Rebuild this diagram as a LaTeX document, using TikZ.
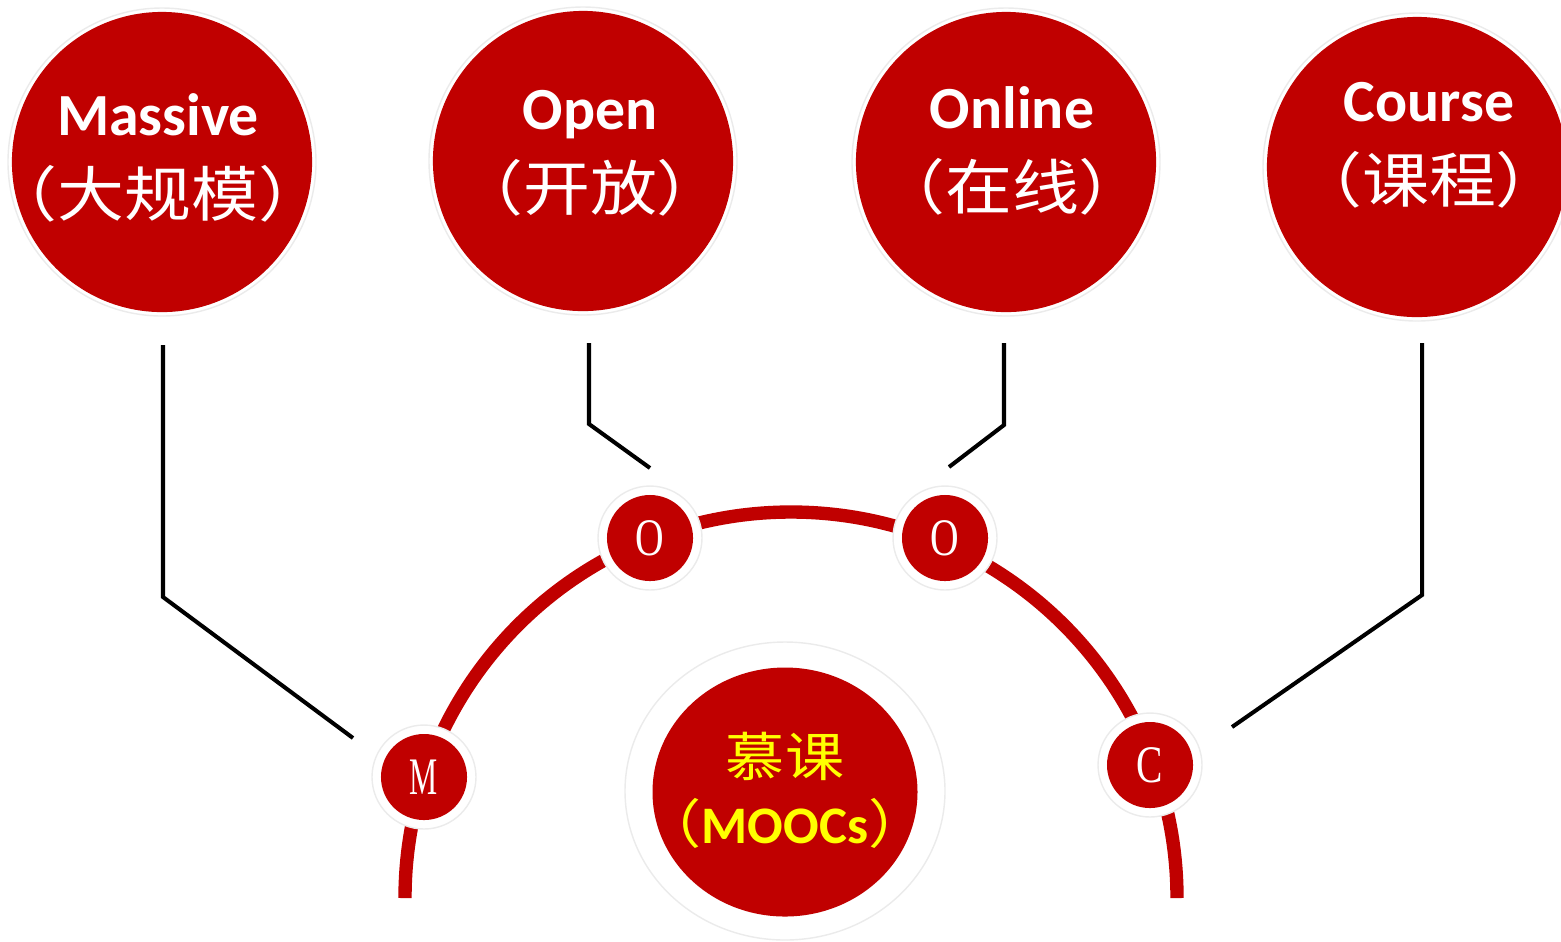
\documentclass[tikz,border=0pt]{standalone}
\usepackage{fontspec}
\usepackage{graphicx}
\setmainfont{Carlito}
\newfontfamily\cjk[FakeStretch=1.12]{Noto Sans CJK SC}
\newfontfamily\letterfont{Liberation Serif}
\definecolor{moocred}{HTML}{C00000}
\definecolor{moocyellow}{HTML}{FFFF00}
\tikzset{
  ball/.style={circle, fill=moocred, inner sep=0pt},
  bigball/.style={ball, minimum size=3cm},
  smallball/.style={ball, minimum size=0.86cm, text=white, font=\letterfont\fontsize{15}{15}\selectfont},
  halo/.style={fill=white, draw=black!8, line width=0.4pt},
  balltext/.style={text=white, align=center, font=\bfseries\fontsize{17}{23}\selectfont},
  leader/.style={draw=black, line width=1.15pt},
}
\newcommand{\cnline}[1]{{\cjk\mdseries\fontsize{17}{23}\selectfont #1}}
\begin{document}
\begin{tikzpicture}[x=0.01cm, y=0.01cm]
    \useasboundingbox (0,0) rectangle (1561,-941);
    % big circles
    \foreach \x/\y in {162/-162, 583/-161, 1006/-162, 1417/-167}
        \draw[halo] (\x,\y) circle (154);
    \node[bigball] (massive) at (162,-162) {};
    \node[bigball] (open) at (583,-161) {};
    \node[bigball] (online) at (1006,-162) {};
    \node[bigball] (course) at (1417,-167) {};
    \node[balltext] (massive-t) at (158,-158) {Massive\\\cnline{（大规模）}};
    \node[balltext] (open-t) at (590,-153) {Open\\\cnline{（开放）}};
    \node[balltext] (online-t) at (1012,-151) {Online\\\cnline{（在线）}};
    \node[balltext] (course-t) at (1429,-145) {Course\\\cnline{（课程）}};
    % arc with letters
    \draw[moocred, line width=3.8pt] (405,-898) arc[start angle=180, end angle=0, radius=386];
    \foreach \x/\y in {424/-777, 650/-538, 945/-538, 1150/-765}
        \draw[halo] (\x,\y) circle (52);
    \node[smallball] (m) at (424,-777) {\scalebox{0.6}[1]{M}};
    \node[smallball] (o1) at (650,-538) {\scalebox{0.75}[1]{O}};
    \node[smallball] (o2) at (945,-538) {\scalebox{0.75}[1]{O}};
    \node[smallball] (c) at (1150,-765) {\scalebox{0.75}[1]{C}};
    % centre
    \draw[halo] (785,-791) ellipse (160 and 149);
    \fill[moocred] (785,-792) ellipse (132.5 and 124.5);
    \node[text=moocyellow, align=center, font=\bfseries\fontsize{15}{19}\selectfont] (moocs) at (785,-790)
        {{\cjk\mdseries\fontsize{15}{19}\selectfont 慕课}\\{\cjk\mdseries （}MOOCs{\cjk\mdseries ）}};
    % leaders
    \coordinate (lm1) at (163,-345);
    \coordinate (lm2) at (163,-597);
    \coordinate (lm3) at (353,-738);
    \coordinate (lo1) at (589,-343);
    \coordinate (lo2) at (589,-424);
    \coordinate (lo3) at (650,-468);
    \coordinate (ln1) at (1004,-343);
    \coordinate (ln2) at (1004,-425);
    \coordinate (ln3) at (949,-467);
    \coordinate (lc1) at (1422,-343);
    \coordinate (lc2) at (1422,-595);
    \coordinate (lc3) at (1232,-727);
    \draw[leader] (lm1) -- (lm2) -- (lm3);
    \draw[leader] (lo1) -- (lo2) -- (lo3);
    \draw[leader] (ln1) -- (ln2) -- (ln3);
    \draw[leader] (lc1) -- (lc2) -- (lc3);
\end{tikzpicture}
\end{document}
